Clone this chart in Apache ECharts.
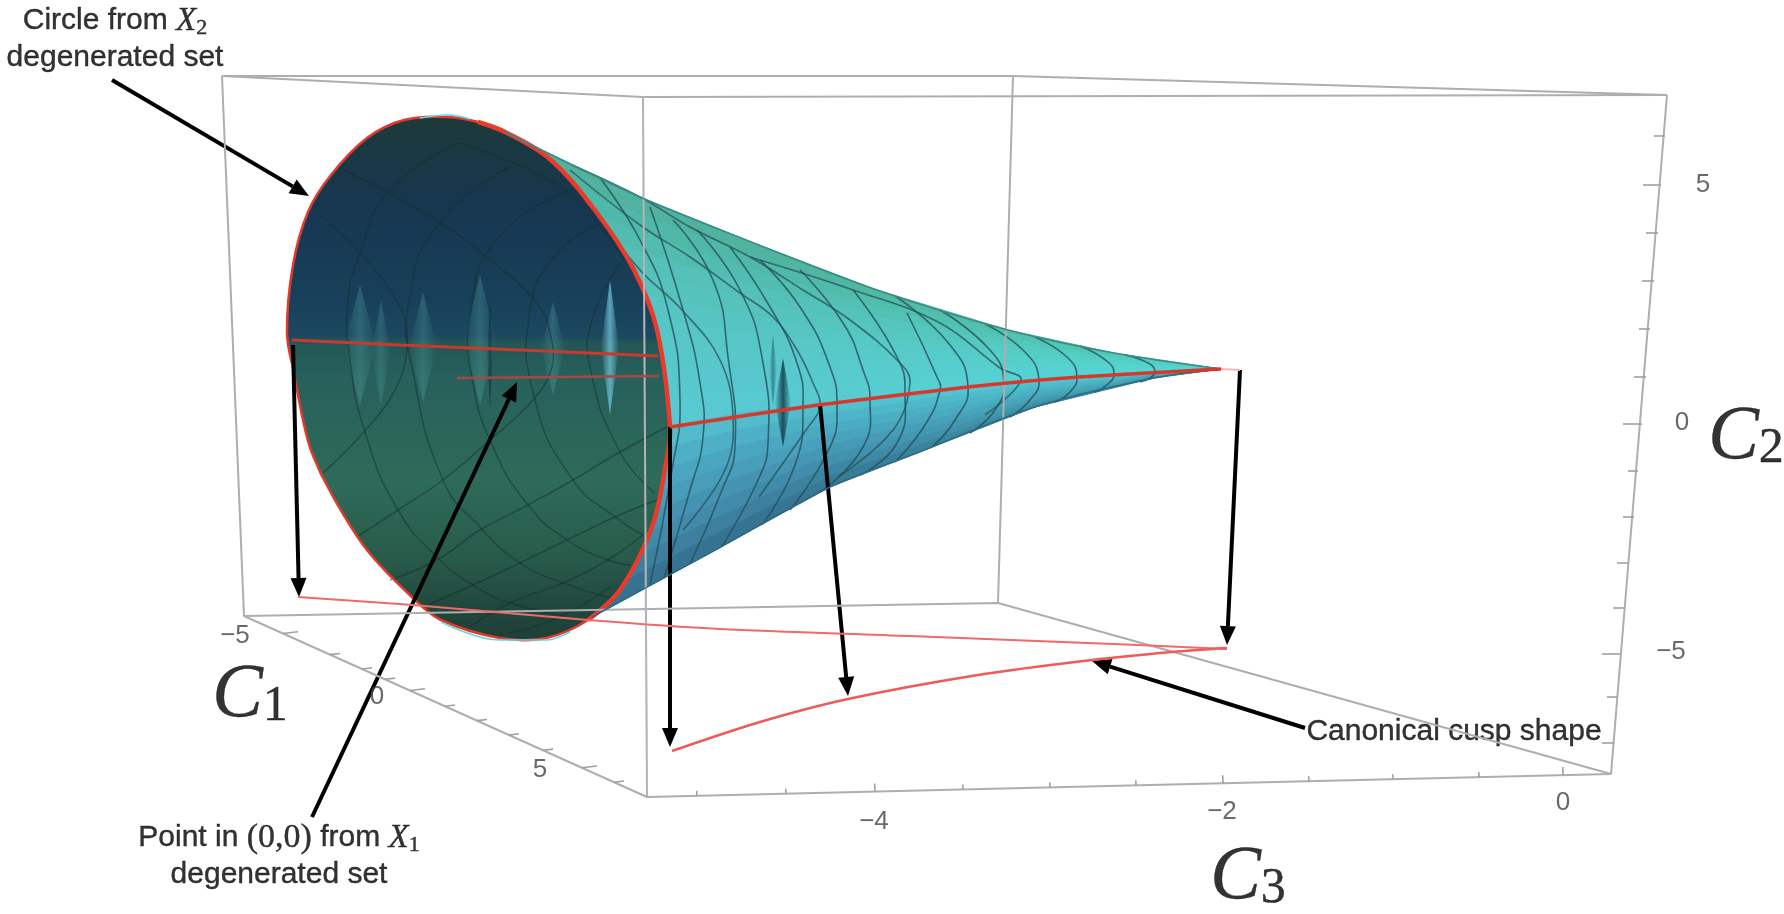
<!DOCTYPE html>
<html><head><meta charset="utf-8">
<style>html,body{margin:0;padding:0;background:#fff}#c{width:1784px;height:914px}</style>
<script src="https://cdn.jsdelivr.net/npm/echarts@6/dist/echarts.min.js"></script>
</head><body><div id="c"></div>
<script>
const boxBack = [[[222,76],[1013,76],[1667,95],[643,97],[222,76]],[[1013,76],[998,603]],[[244,616],[998,603],[1611,774]]];
const boxFront = [[[222,76],[244,616],[647,797],[1611,774],[1667,95]],[[643,97],[647,797]]];
const c1TickBaseX = [283,330,362,385,410,445,477,509,543,582,614];
const c1TickMajor = [1,0,0,0,1,0,0,0,0,1,0];
const c3TickX = [1563,1479,1393,1309,1223,1136,1050,963,875,786,697];
const c3TickMajor = [1,0,0,0,1,0,0,0,1,0,0];
const c2Ticks = [[1654,1665,136],[1643,1661,185],[1646,1658,233],[1642,1654,281],[1639,1650,329],[1634,1646,377],[1623,1642,424],[1628,1638,471],[1623,1634,517],[1617,1628,563],[1613,1624,608],[1602,1620,654],[1607,1617,697],[1602,1614,743]];
const tickLabels = [['−5',235,636],['0',377,697],['5',540,770],['−4',874,822],['−2',1222,812],['0',1563,803],['5',1703,185],['0',1682,423],['−5',1671,652]];

const cuspUpper = [[298,597],[413,605],[588,620],[720,629],[910,636],[1138,645],[1227,649]];
const cuspLower = [[672,751],[760,722],[848,699],[978,675],[1092,660],[1172,652],[1227,648]];
const apexLink = [[1221,369],[1240,370]];

const coneTop = [[505,132],[640,197],[759,245],[877,290],[1008,330],[1114,353],[1221,369]];
const coneMid = [[660,428],[740,413],[830,403],[930,391],[1040,380],[1130,374],[1221,369]];
const coneBottom = [[592,617],[719,548],[830,487],[917,453],[1035,407],[1154,378],[1221,369]];
const upperShades = ['#4fb39f','#50b8a8','#52bcb0','#54c0b8','#55c2bc','#56c4c2','#57c6c6','#58c7ca','#58c8ce','#58c9d0'];
const lowerShades = ['#52bccc','#4eb0c6','#4aa6c0','#489dbb','#4593b2','#418aa9','#3c7f9e','#367392'];

const mouth = [[448,117],[478,122],[505,132],[551,160],[597,213],[634,270],[657,330],[670,427],[666,463],[652,527],[620,590],[588,620],[546,638],[500,638],[441,620],[413,598],[367,550],[331,493],[312,453],[303,420],[294,373],[287,333],[293,265],[308,212],[331,175],[367,138],[404,120]];
const rimRight = [[478,122],[505,132],[551,160],[597,213],[634,270],[657,330],[670,427],[666,463],[652,527],[620,590],[588,620]];
const rimCyan = [[[441,622],[500,640],[546,640],[570,632]],[[420,118],[448,115],[470,119]]];
const interiorStops = [[0,'#1c3a3a'],[0.16,'#173650'],[0.35,'#18405a'],[0.42,'#1b485f'],[0.433,'#235656'],[0.5,'#27605c'],[0.7,'#2e6b58'],[0.85,'#285a4a'],[0.95,'#20463c'],[1,'#1e3f37']];

const outerRings = [
 [[600,178],[640,240],[668,310],[680,400],[672,470],[650,585]],
 [[650,207],[683,310],[700,383],[703,437],[690,490],[664,578]],
 [[673,220],[713,280],[728,357],[735,447],[722,490],[690,564]],
 [[697,230],[740,290],[763,363],[768,443],[758,480],[722,546]],
 [[730,247],[770,307],[797,363],[803,407],[795,465],[762,525]],
 [[760,260],[800,307],[830,367],[837,407],[830,447],[790,510]],
 [[800,270],[843,323],[863,370],[870,400],[863,447],[820,492]],
 [[853,290],[897,357],[905,393],[897,443],[860,475]],
 [[907,313],[937,377],[940,390],[925,425],[895,462]],
 [[895,296],[950,345],[968,387],[955,420],[932,447]],[[940,310],[990,350],[1004,382],[995,410],[970,433]],
 [[985,324],[1025,352],[1039,380],[1030,400],[1010,417]],[[1035,337],[1068,358],[1077,377],[1070,392],[1055,402]],
 [[1080,346],[1108,362],[1114,374],[1108,384],[1095,392]],[[1125,355],[1150,364],[1155,372],[1150,378],[1140,382]]];
const outerSpirals = [
 [[570,170],[640,225],[690,257],[740,293],[773,317],[797,350],[813,383],[820,407],[806,430],[759,497]],
 [[605,225],[640,270],[682,310],[720,360],[733,417],[725,470],[683,530]],
 [[572,165],[640,197],[690,227],[750,257],[803,290],[850,320],[900,363],[910,383],[893,430],[838,477]],
 [[750,257],[853,290],[940,323],[1000,368],[1021,380],[985,415]]];
const innerRings = [
 [[459,143],[390,190],[360,253],[348,300],[350,360],[365,432],[398,510],[440,560],[473,585],[510,603],[563,615]],
 [[510,167],[436,227],[408,307],[412,367],[443,480],[480,527],[520,563],[563,583],[610,598]],
 [[569,190],[496,240],[470,317],[473,383],[493,447],[528,505],[567,540],[608,560],[630,565]],
 [[597,225],[557,253],[530,310],[535,400],[573,480],[615,517],[643,535]],
 [[620,263],[592,320],[590,367],[620,452],[655,493]]];
const innerSpirals = [
 [[459,143],[565,190],[624,260]],
 [[344,170],[436,220],[487,257],[537,303],[550,333],[552,367],[533,400],[490,440],[443,480],[398,510],[357,537]],
 [[317,213],[360,253],[400,307],[407,347],[395,390],[363,433],[323,473]],
 [[667,427],[620,452],[573,480],[528,505],[480,530],[437,560],[390,580]],
 [[657,500],[615,517],[567,540],[520,563],[473,585],[423,607]],
 [[643,535],[608,560],[563,583],[510,603],[470,627]],
 [[610,587],[560,617],[510,633]]];
// [centre x, top y, bottom y, half width, colour]
const streaks = [[360,285,405,16,'rgba(90,175,175,0.3)'],[381,300,405,10,'rgba(90,175,175,0.25)'],[423,292,402,14,'rgba(90,175,175,0.28)'],[480,275,405,16,'rgba(90,175,175,0.3)'],[490,300,410,3,'rgba(15,40,50,0.55)'],[553,302,395,12,'rgba(90,175,185,0.3)'],[610,280,415,9,'rgba(125,215,235,0.65)']];
const smudges = [[783,358,447,8,'rgba(20,60,70,0.85)'],[773,335,405,4,'rgba(20,60,70,0.45)']];

const seamUpper = [[292,340],[400,345],[520,350],[658,356]];
const seamLower = [[457,378],[560,377],[659,376]];
const centreLine = [[670,427],[818,405],[968,387],[1079,377],[1221,369]];
const boxThrough = [[643,97],[647,797]];

const arrowStart = [[112,80],[293,345],[312,817],[670,427],[820,404],[1240,370],[1305,728]];
const arrowEnd = [[309,196],[299,597],[517,382],[670,747],[848,696],[1227,645],[1092,661]];

const SANS = '"Liberation Sans"', SERIF = '"Liberation Serif"';
const textRows = [
 ['{a|Circle from }{x|X}{s|2}',115,21],['{a|degenerated set}',115,58],
 ['{a|Point in }{m|(0,0)}{a| from }{x|X}{s|1}',279,838],['{a|degenerated set}',279,875],
 ['{a|Canonical cusp shape}',1454,732]];
const axisTitles = [['{c|C}{s|1}',250,695],['{c|C}{s|2}',1746,437],['{c|C}{s|3}',1248,877]];

const series = [];
function line(pts,color,width,opts){series.push({type:'line',data:pts,showSymbol:false,symbol:'none',silent:true,animation:false,
  lineStyle:{color:color,width:width,opacity:(opts&&opts.opacity)||1},smooth:(opts&&opts.smooth)||false});}
function shape(kind,pts,style,smooth){series.push({type:'custom',silent:true,animation:false,data:pts,encode:{x:0,y:1},
  renderItem:function(p,api){ if(p.dataIndex!==0) return null;
    return {type:kind,shape:{points:pts.map(q=>api.coord(q)),smooth:smooth||0},style:typeof style==='function'?style(api):style};}});}
function poly(pts,style,smooth){shape('polygon',pts,style,smooth);}
function curve(pts,color,width,opacity,smooth){shape('polyline',pts,{fill:'none',stroke:color,lineWidth:width,opacity:opacity},smooth);}
function mix(a,b,t){return [a[0]+(b[0]-a[0])*t,a[1]+(b[1]-a[1])*t];}
function band(A,B,shades){shades.forEach((c,i)=>{
  const t0=i/shades.length,t1=(i+1)/shades.length;
  const pts=A.map((q,k)=>mix(q,B[k],t0)).concat(A.map((q,k)=>mix(q,B[k],t1)).reverse());
  poly(pts,{fill:c,stroke:c,lineWidth:1});});}
function lens(s){const [x,y0,y1,w,c]=s;
  poly([[x,y0],[x+w,(y0+y1)/2],[x,y1],[x-w,(y0+y1)/2]],function(api){
    const l=api.coord([x-w,0])[0],r=api.coord([x+w,0])[0];
    return {fill:new echarts.graphic.LinearGradient(l,0,r,0,[{offset:0,color:c.replace(/[\d.]+\)$/,'0)')},{offset:.5,color:c},{offset:1,color:c.replace(/[\d.]+\)$/,'0)')}],true)};});}

const GRID='#aeaeae';
boxBack.forEach(p=>line(p,GRID,2));
boxFront.forEach(p=>line(p,GRID,2));
const C1A=[244,616],C1B=[647,797];
c1TickBaseX.forEach((x,i)=>{const y=C1A[1]+(x-C1A[0])*(C1B[1]-C1A[1])/(C1B[0]-C1A[0]);const L=c1TickMajor[i]?15:10;line([[x,y],[x+L,y-L*0.12]],'#a0a0a0',1.6);});
const C3A=[647,797],C3B=[1611,774];
c3TickX.forEach((x,i)=>{const y=C3A[1]+(x-C3A[0])*(C3B[1]-C3A[1])/(C3B[0]-C3A[0]);const L=c3TickMajor[i]?8:5;line([[x,y],[x-0.3,y-L]],'#a0a0a0',1.6);});
c2Ticks.forEach(t=>line([[t[0],t[2]],[t[1],t[2]]],'#a0a0a0',1.6));
line(cuspUpper,'#f06a6a',2,{smooth:0.3});
line(cuspLower,'#ef5a5a',2.5,{smooth:0.3});
line(apexLink,'#f7b5b5',2);
// cone outside
band(coneTop,coneMid,upperShades);
band(coneMid,coneBottom,lowerShades);
poly(coneTop.concat(coneBottom.slice(0,-1).reverse()),function(api){
  const l=api.coord([760,0])[0],r=api.coord([1180,0])[0];
  return {fill:new echarts.graphic.LinearGradient(l,0,r,0,[{offset:0,color:'rgba(80,240,225,0)'},{offset:1,color:'rgba(80,240,225,0.35)'}],true)};});
outerRings.forEach(p=>curve(p,'#24505a',1.6,.8,0.5));
outerSpirals.forEach(p=>curve(p,'#24505a',1.6,.75,0.4));
smudges.forEach(lens);
line(coneTop,'#3d8a86',1.5,{smooth:0.3});
line(coneBottom,'#2d6a86',1.5,{smooth:0.3});
line(centreLine,'#d6382c',3.5,{smooth:0.2});
// mouth
rimCyan.forEach(p=>line(p,'#62dcdc',1.5,{smooth:0.4}));
poly(mouth,function(api){const t=api.coord([0,117])[1],b=api.coord([0,638])[1];
  return {fill:new echarts.graphic.LinearGradient(0,t,0,b,interiorStops.map(s=>({offset:s[0],color:s[1]})),true)};},0.35);
streaks.forEach(lens);
innerRings.forEach(p=>curve(p,'#15302e',1.5,.5,0.5));
innerSpirals.forEach(p=>curve(p,'#15302e',1.5,.5,0.4));
line(boxThrough,'#c8c8c8',1.5,{opacity:.3});
line(seamUpper,'#c83a30',3);
line(seamLower,'#a24a44',2.5);
poly(mouth,{fill:'none',stroke:'#e03a30',lineWidth:2.5},0.35);
shape('polyline',rimRight,{fill:'none',stroke:'#ea3a2c',lineWidth:4.5},0.35);
// arrows
series.push({type:'custom',silent:true,animation:false,data:arrowStart.map((s,i)=>[s[0],s[1],arrowEnd[i][0],arrowEnd[i][1]]),encode:{x:[0,2],y:[1,3]},
  renderItem:function(p,api){
    const a=api.coord([api.value(0),api.value(1)]),b=api.coord([api.value(2),api.value(3)]);
    const d=Math.hypot(b[0]-a[0],b[1]-a[1]),ux=(b[0]-a[0])/d,uy=(b[1]-a[1])/d,H=19,W=8;
    const c=[b[0]-ux*H,b[1]-uy*H];
    return {type:'group',children:[
     {type:'line',shape:{x1:a[0],y1:a[1],x2:c[0],y2:c[1]},style:{stroke:'#000',lineWidth:4}},
     {type:'polygon',shape:{points:[b,[c[0]-uy*W,c[1]+ux*W],[c[0]+uy*W,c[1]-ux*W]]},style:{fill:'#000'}}]};}});
// text
const thin={textBorderColor:'#000',textBorderWidth:0.4};
const richText={a:Object.assign({fontFamily:SANS,fontSize:30,color:'#000',lineHeight:36},thin),m:Object.assign({fontFamily:SERIF,fontSize:34,color:'#000',lineHeight:36},thin),
  x:Object.assign({fontFamily:SERIF,fontStyle:'italic',fontSize:33,color:'#000',lineHeight:36},thin),s:Object.assign({fontFamily:SERIF,fontSize:22,color:'#000',lineHeight:22,padding:[18,0,0,0],verticalAlign:'bottom'},thin)};
const richTitle={c:Object.assign({fontFamily:SERIF,fontStyle:'italic',fontSize:76,color:'#000',lineHeight:74,verticalAlign:'top'},thin),
  s:Object.assign({fontFamily:SERIF,fontSize:50,color:'#000',lineHeight:50,padding:[52,0,0,0],verticalAlign:'bottom'},thin)};
function labels(rows,labelOpt){series.push({type:'scatter',silent:true,animation:false,symbolSize:1,itemStyle:{color:'rgba(0,0,0,0)'},
  data:rows.map(r=>({value:[r[1],r[2]],label:Object.assign({show:true,position:'inside',formatter:r[0]},labelOpt)}))});}
labels(tickLabels,{fontFamily:SANS,fontSize:26,color:'#444'});
labels(textRows,{color:'#000',rich:richText});
labels(axisTitles,{color:'#000',rich:richTitle});

const chart=echarts.init(document.getElementById('c'));
chart.setOption({animation:false,backgroundColor:'#fff',tooltip:{show:false},legend:{show:false},
  grid:{left:0,right:0,top:0,bottom:0},
  xAxis:{type:'value',min:0,max:1784,show:false},
  yAxis:{type:'value',min:0,max:914,inverse:true,show:false},
  series:series});
</script></body></html>
